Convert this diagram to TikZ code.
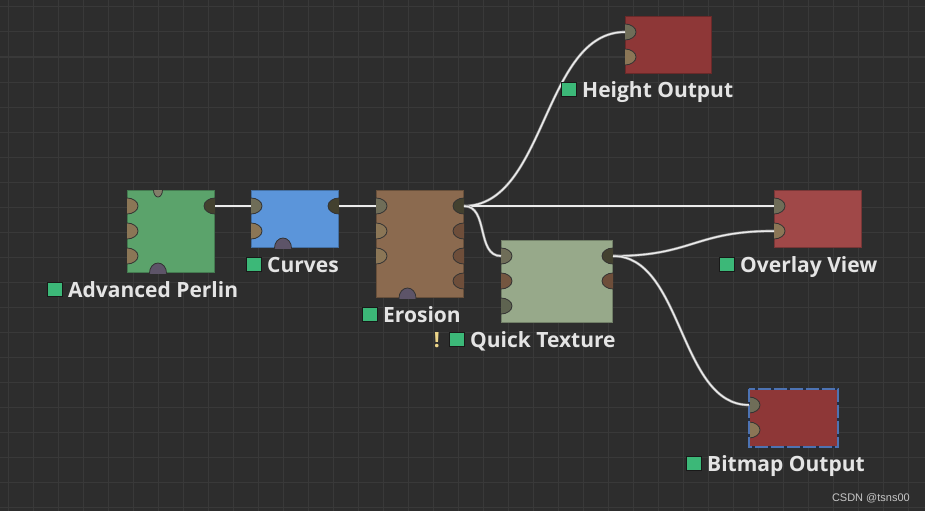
\documentclass[tikz,border=0pt]{standalone}
\usepackage{fontspec}
\usepackage{tikz}
\usetikzlibrary{shapes.geometric}
\newfontfamily\capfont{Open Sans}
\newfontfamily\markfont{Liberation Sans}
\definecolor{bgc}{HTML}{2D2D2D}
\definecolor{gridc}{HTML}{393939}
\definecolor{perlinc}{HTML}{5BA36B}
\definecolor{curvesc}{HTML}{5B95DA}
\definecolor{erosionc}{HTML}{8B6A4F}
\definecolor{texturec}{HTML}{97A98A}
\definecolor{outc}{HTML}{8E3737}
\definecolor{viewc}{HTML}{A04848}
\definecolor{tagc}{HTML}{3CB878}
\definecolor{captc}{HTML}{E4E4E4}
\definecolor{inonc}{HTML}{6F6D58}
\definecolor{inoffc}{HTML}{8B7656}
\definecolor{outonc}{HTML}{43412F}
\definecolor{outoffc}{HTML}{6E4E3A}
\definecolor{maskc}{HTML}{5E6350}
\definecolor{subc}{HTML}{5D5468}
\definecolor{seedc}{HTML}{827E69}
\definecolor{selc}{HTML}{4D73B3}
\definecolor{warnc}{HTML}{EDD58A}

\begin{document}
\begin{tikzpicture}[x=1pt,y=-1pt,
    block/.style={draw=#1!75!black, fill=#1, line width=1pt, anchor=north west, inner sep=0pt},
    port/.style={ellipse, draw=black!80, line width=0.8pt, fill=#1, minimum width=22, minimum height=16, inner sep=0pt},
    subport/.style={ellipse, draw=black!80, line width=0.8pt, fill=#1, minimum width=17, minimum height=20, inner sep=0pt},
    wire/.style={draw=white!55!black, double=white!92!black, double distance=1.5pt, line width=0.6pt},
    tag/.style={draw=black!90, fill=tagc, line width=1pt, minimum size=14.5, inner sep=0pt, anchor=south west},
    caption/.style={text=captc, font=\capfont\bfseries\fontsize{21}{25}\selectfont, inner sep=0pt, anchor=base west}]
    \useasboundingbox (0,0) rectangle (925,511);
    \fill[bgc] (0,0) rectangle (925,511);
    \foreach \x in {8,33,...,908} \draw[gridc, line width=1pt] (\x,0) -- (\x,511);
    \foreach \y in {7,32,...,507} \draw[gridc, line width=1pt] (0,\y) -- (925,\y);

    \node[block=perlinc, minimum width=87, minimum height=82] (perlin) at (127,190) {};
    \node[block=curvesc, minimum width=87, minimum height=57] (curves) at (251,190) {};
    \node[block=erosionc, minimum width=87, minimum height=107] (erosion) at (376,190) {};
    \node[block=texturec, minimum width=111, minimum height=82] (texture) at (501,240) {};
    \node[block=outc, minimum width=86, minimum height=57] (height) at (625,16) {};
    \node[block=viewc, minimum width=87, minimum height=57] (overlay) at (774,190) {};
    \node[block=outc, minimum width=88, minimum height=57] (bitmap) at (749,389) {};

    \begin{scope}
    \clip (perlin.north west) rectangle (perlin.south east);
    \node[port=inoffc] (perlin-i1) at ([yshift=-16pt]perlin.north west) {};
    \node[port=inoffc] (perlin-i2) at ([yshift=-41pt]perlin.north west) {};
    \node[port=inoffc] (perlin-i3) at ([yshift=-66pt]perlin.north west) {};
    \node[port=outonc] (perlin-o1) at ([yshift=-16pt]perlin.north east) {};
    \node[subport=seedc, minimum width=9, minimum height=14] (perlin-seed) at ([xshift=31pt]perlin.north west) {};
    \node[subport=subc] (perlin-sub) at ([xshift=31pt]perlin.south west) {};
    \end{scope}
    \begin{scope}
    \clip (curves.north west) rectangle (curves.south east);
    \node[port=inonc] (curves-i1) at ([yshift=-16pt]curves.north west) {};
    \node[port=inoffc] (curves-i2) at ([yshift=-41pt]curves.north west) {};
    \node[port=outonc] (curves-o1) at ([yshift=-16pt]curves.north east) {};
    \node[subport=subc] (curves-sub) at ([xshift=32pt]curves.south west) {};
    \end{scope}
    \begin{scope}
    \clip (erosion.north west) rectangle (erosion.south east);
    \node[port=inonc] (erosion-i1) at ([yshift=-16pt]erosion.north west) {};
    \node[port=inoffc] (erosion-i2) at ([yshift=-41pt]erosion.north west) {};
    \node[port=inoffc] (erosion-i3) at ([yshift=-66pt]erosion.north west) {};
    \node[port=outonc] (erosion-o1) at ([yshift=-16pt]erosion.north east) {};
    \node[port=outoffc] (erosion-o2) at ([yshift=-41pt]erosion.north east) {};
    \node[port=outoffc] (erosion-o3) at ([yshift=-66pt]erosion.north east) {};
    \node[port=outoffc] (erosion-o4) at ([yshift=-91pt]erosion.north east) {};
    \node[subport=subc] (erosion-sub) at ([xshift=31.5pt]erosion.south west) {};
    \end{scope}
    \begin{scope}
    \clip (texture.north west) rectangle (texture.south east);
    \node[port=inonc] (texture-i1) at ([yshift=-16pt]texture.north west) {};
    \node[port=outoffc!80!inoffc] (texture-i2) at ([yshift=-41pt]texture.north west) {};
    \node[port=maskc] (texture-i3) at ([yshift=-66pt]texture.north west) {};
    \node[port=outonc] (texture-o1) at ([yshift=-16pt]texture.north east) {};
    \node[port=outoffc] (texture-o2) at ([yshift=-41pt]texture.north east) {};
    \end{scope}
    \begin{scope}
    \clip (height.north west) rectangle (height.south east);
    \node[port=inonc] (height-i1) at ([yshift=-16pt]height.north west) {};
    \node[port=inoffc] (height-i2) at ([yshift=-41pt]height.north west) {};
    \end{scope}
    \begin{scope}
    \clip (overlay.north west) rectangle (overlay.south east);
    \node[port=inonc] (overlay-i1) at ([yshift=-16pt]overlay.north west) {};
    \node[port=inoffc] (overlay-i2) at ([yshift=-41pt]overlay.north west) {};
    \end{scope}
    \begin{scope}
    \clip (bitmap.north west) rectangle (bitmap.south east);
    \node[port=inonc] (bitmap-i1) at ([yshift=-16pt]bitmap.north west) {};
    \node[port=inoffc] (bitmap-i2) at ([yshift=-41pt]bitmap.north west) {};
    \end{scope}
    \draw[selc!40!black, line width=2pt] (bitmap.north west) rectangle (bitmap.south east);
    \draw[selc, line width=2pt, dash pattern=on 13pt off 3pt] (bitmap.north west) rectangle (bitmap.south east);

    \draw[wire] (perlin-o1.center) -- (curves-i1.center);
    \draw[wire] (curves-o1.center) -- (erosion-i1.center);
    \draw[wire] (erosion-o1.center) .. controls +(82,0) and +(-82,0) .. (height-i1.center);
    \draw[wire] (erosion-o1.center) -- (overlay-i1.center);
    \draw[wire] (erosion-o1.center) .. controls +(25,0) and +(-25,0) .. (texture-i1.center);
    \draw[wire] (texture-o1.center) .. controls +(80,0) and +(-80,0) .. (overlay-i2.center);
    \draw[wire] (texture-o1.center) .. controls +(70,0) and +(-70,0) .. (bitmap-i1.center);

    \node[tag] (perlin-tag) at (47,297) {};
    \node[caption] (perlin-cap) at ([xshift=5.5pt]perlin-tag.south east) {Advanced Perlin};
    \node[tag] (curves-tag) at (246,272) {};
    \node[caption] (curves-cap) at ([xshift=5.5pt]curves-tag.south east) {Curves};
    \node[tag] (erosion-tag) at (362,322) {};
    \node[caption] (erosion-cap) at ([xshift=5.5pt]erosion-tag.south east) {Erosion};
    \node[tag] (texture-tag) at (449,347) {};
    \node[caption] (texture-cap) at ([xshift=5.5pt]texture-tag.south east) {Quick Texture};
    \node[caption, text=warnc, anchor=base east] (texture-warn) at ([xshift=-9pt]texture-tag.south west) {!};
    \node[tag] (height-tag) at (561,97) {};
    \node[caption] (height-cap) at ([xshift=5.5pt]height-tag.south east) {Height Output};
    \node[tag] (overlay-tag) at (719,272) {};
    \node[caption] (overlay-cap) at ([xshift=5.5pt]overlay-tag.south east) {Overlay View};
    \node[tag] (bitmap-tag) at (686,471) {};
    \node[caption] (bitmap-cap) at ([xshift=5.5pt]bitmap-tag.south east) {Bitmap Output};

    \node[font=\markfont\fontsize{11}{13}\selectfont, text=white!78!black, anchor=base east, inner sep=0pt] (mark) at (910,501) {CSDN @tsns00};
\end{tikzpicture}
\end{document}
